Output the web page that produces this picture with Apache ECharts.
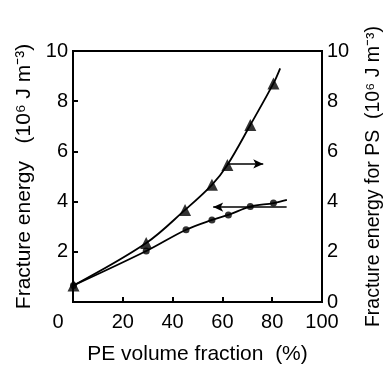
<!DOCTYPE html>
<html>
<head>
<meta charset="utf-8">
<script src="https://cdn.jsdelivr.net/npm/echarts@6/dist/echarts.min.js"></script>
<style>
  html, body { margin: 0; padding: 0; background: #fff; }
  #chart { width: 383px; height: 365px; }
</style>
</head>
<body>
<div id="chart"></div>
<script>
// PE volume fraction (%) and fracture energies
const peFraction = [0.2, 29.4, 45.4, 55.8, 62.4, 71.2, 80.5];
const blendEnergy = [0.66, 2.03, 2.88, 3.27, 3.47, 3.8, 3.94];      // circles, left axis
const psFraction = [0.2, 29.4, 45.0, 55.8, 62.0, 71.2, 80.5];
const psEnergy = [0.66, 2.35, 3.67, 4.67, 5.46, 7.05, 8.71];         // triangles, right axis
// where the drawn curves run out past the last point
const blendCurveEnd = [85.9, 4.07];
const psCurveEnd = [83.2, 9.31];
// arrows marking which axis each curve belongs to
const psArrow = [[62.0, 5.5], [76.4, 5.5]];
const blendArrow = [[85.8, 3.78], [56.3, 3.78]];

const font = 'Liberation Sans';
const pts = (xs, ys) => xs.map((x, i) => [x, ys[i]]);

const chart = echarts.init(document.getElementById('chart'), null, { renderer: 'canvas' });

chart.setOption({
  animation: false,
  grid: {
    left: 73, right: 61, top: 51, bottom: 63,
    outerBoundsMode: 'none', containLabel: false,
    show: true, borderColor: '#000', borderWidth: 2
  },
  xAxis: {
    type: 'value', min: 0, max: 100, interval: 20,
    name: 'PE volume fraction  (%)',
    nameLocation: 'middle', nameGap: 42,
    nameTextStyle: { fontFamily: font, fontSize: 21, color: '#000' },
    axisLine: { lineStyle: { color: '#000', width: 2 } },
    axisTick: { inside: true, length: 5, lineStyle: { color: '#000', width: 2 } },
    splitLine: { show: false },
    axisLabel: {
      fontFamily: font, fontSize: 20, color: '#000', margin: 10,
      formatter: v => v === 0 ? '{z|0}' : String(v),
      rich: { z: { fontFamily: font, fontSize: 20, color: '#000', padding: [0, 30, 0, 0] } }
    }
  },
  yAxis: [
    {
      type: 'value', min: 0, max: 10, interval: 2, position: 'left',
      name: 'Fracture energy   (10⁶ J m⁻³)',
      nameLocation: 'middle', nameGap: 37, nameRotate: 90,
      nameTextStyle: { fontFamily: font, fontSize: 21, color: '#000' },
      axisLine: { show: true, lineStyle: { color: '#000', width: 2 } },
      axisTick: { show: true, inside: true, length: 5, lineStyle: { color: '#000', width: 2 } },
      splitLine: { show: false },
      axisLabel: { fontFamily: font, fontSize: 20, color: '#000', margin: 5, showMinLabel: false }
    },
    {
      type: 'value', min: 0, max: 10, interval: 2, position: 'right',
      name: 'Fracture energy for PS  (10⁶ J m⁻³)',
      nameLocation: 'middle', nameGap: 42, nameRotate: 90,
      nameTextStyle: { fontFamily: font, fontSize: 19.5, color: '#000' },
      axisLine: { show: true, lineStyle: { color: '#000', width: 2 } },
      axisTick: { show: false },
      splitLine: { show: false },
      axisLabel: { fontFamily: font, fontSize: 20, color: '#000', margin: 5 }
    }
  ],
  series: [
    {
      type: 'line', yAxisIndex: 0, smooth: 0.35, showSymbol: false, silent: true,
      data: pts(peFraction, blendEnergy).concat([blendCurveEnd]),
      lineStyle: { color: '#000', width: 1.8 },
      markLine: {
        silent: true, symbol: ['arrow', 'none'], symbolSize: [7, 10],
        label: { show: false },
        lineStyle: { color: '#000', width: 1.5, type: 'solid' },
        data: [[{ coord: blendArrow[1] }, { coord: blendArrow[0] }]]
      }
    },
    {
      type: 'line', yAxisIndex: 1, smooth: 0.35, showSymbol: false, silent: true,
      data: pts(psFraction, psEnergy).concat([psCurveEnd]),
      lineStyle: { color: '#000', width: 1.8 },
      markLine: {
        silent: true, symbol: ['none', 'arrow'], symbolSize: [7, 10],
        label: { show: false },
        lineStyle: { color: '#000', width: 1.5, type: 'solid' },
        data: [[{ coord: psArrow[0] }, { coord: psArrow[1] }]]
      }
    },
    {
      type: 'scatter', yAxisIndex: 0, symbol: 'circle', symbolSize: 7,
      itemStyle: { color: '#000' },
      data: pts(peFraction, blendEnergy)
    },
    {
      type: 'scatter', yAxisIndex: 1, symbol: 'triangle', symbolSize: 12,
      itemStyle: { color: '#000' },
      data: pts(psFraction, psEnergy)
    }
  ]
});
</script>
</body>
</html>
